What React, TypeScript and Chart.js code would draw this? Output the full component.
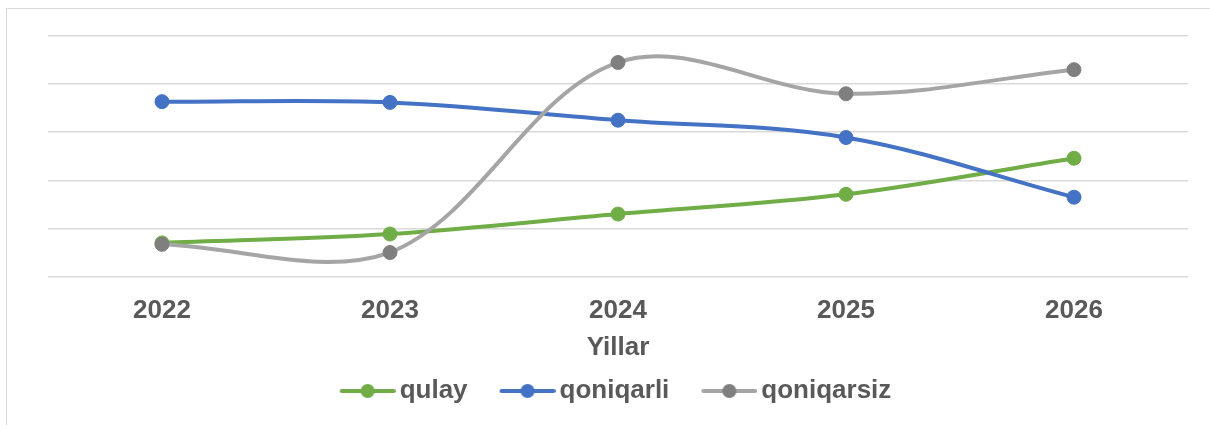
import React, { useEffect, useRef } from "react";
import { Chart, registerables } from "chart.js";

Chart.register(...registerables);

const years = ["2022", "2023", "2024", "2025", "2026"];
const qulay = [7.0, 8.85, 13.0, 17.1, 24.6];
const qoniqarli = [36.35, 36.2, 32.5, 28.9, 16.5];
const qoniqarsiz = [6.7, 5.0, 44.5, 38.0, 43.0];
const seriesNames = ["qulay", "qoniqarli", "qoniqarsiz"];
const axisTitle = "Yillar";

const FONT = "'Liberation Sans', Arial, sans-serif";
const TEXT = "#595959";

function makeLegendImage(lineColor: string, dotColor: string) {
  const c = document.createElement("canvas");
  c.width = 82;
  c.height = 20;
  const ctx = c.getContext("2d")!;
  ctx.strokeStyle = lineColor;
  ctx.lineWidth = 4;
  ctx.lineCap = "round";
  ctx.beginPath();
  ctx.moveTo(28, 10);
  ctx.lineTo(80, 10);
  ctx.stroke();
  ctx.fillStyle = dotColor;
  ctx.beginPath();
  ctx.arc(54, 10, 7, 0, Math.PI * 2);
  ctx.fill();
  return c;
}

const shiftLegend = {
  id: "shiftLegend",
  afterLayout(chart: any) {
    const l = chart.legend;
    if (l) {
      l.left -= 11;
      l.right -= 11;
    }
  },
};

export default function App() {
  const ref = useRef<HTMLCanvasElement>(null);
  useEffect(() => {
    const colors = [
      { line: "#70AD47", dot: "#70AD47" },
      { line: "#4472C4", dot: "#4472C4" },
      { line: "#A5A5A5", dot: "#7F7F7F" },
    ];
    const values = [qulay, qoniqarli, qoniqarsiz];
    const images = colors.map((c) => makeLegendImage(c.line, c.dot));
    const chart = new Chart(ref.current!, {
      type: "line",
      data: {
        labels: years,
        datasets: seriesNames.map((name, i) => ({
          label: name,
          data: values[i],
          order: 3 - i,
          borderColor: colors[i].line,
          backgroundColor: colors[i].dot,
          pointBackgroundColor: colors[i].dot,
          pointBorderColor: colors[i].dot,
          pointRadius: 7,
          pointBorderWidth: 1,
          borderWidth: 4,
          tension: 0.35,
          fill: false,
        })),
      },
      plugins: [shiftLegend],
      options: {
        animation: false,
        responsive: false,
        maintainAspectRatio: false,
        layout: { padding: { top: 36, left: 48, right: 22, bottom: 11 } },
        scales: {
          x: {
            offset: true,
            grid: { display: false, drawTicks: false },
            border: { display: false },
            ticks: {
              color: TEXT,
              font: { family: FONT, size: 26, weight: "bold" },
              padding: 19,
            },
            title: {
              display: true,
              text: axisTitle,
              color: TEXT,
              font: { family: FONT, size: 26, weight: "bold" },
              padding: { top: -14, bottom: 0 },
            },
          },
          y: {
            min: 0,
            max: 50,
            ticks: { display: false, stepSize: 10 },
            grid: { color: "#D9D9D9", lineWidth: 1.5, drawTicks: false },
            border: { display: false },
          },
        },
        plugins: {
          tooltip: { enabled: false },
          legend: {
            position: "bottom",
            labels: {
              color: TEXT,
              font: { family: FONT, size: 26, weight: "bold" },
              usePointStyle: true,
              pointStyleWidth: 64,
              padding: 15,
              generateLabels: (ch: any) => {
                const items = Chart.defaults.plugins.legend.labels.generateLabels(ch);
                return items
                  .slice()
                  .sort((a: any, b: any) => a.datasetIndex - b.datasetIndex)
                  .map((it: any) => ({
                    ...it,
                    pointStyle: images[it.datasetIndex],
                  }));
              },
            },
          },
        },
      },
    });
    return () => chart.destroy();
  }, []);
  return (
    <div style={{ position: "fixed", left: 0, top: 0, width: 1210, height: 425, background: "#fff", overflow: "hidden" }}>
      <div
        style={{
          position: "absolute",
          left: 6,
          top: 8,
          width: 1230,
          height: 440,
          border: "1.5px solid #D9D9D9",
          boxSizing: "border-box",
        }}
      />
      <canvas ref={ref} width={1210} height={425} style={{ position: "absolute", left: 0, top: 0, width: 1210, height: 425 }} />
    </div>
  );
}
